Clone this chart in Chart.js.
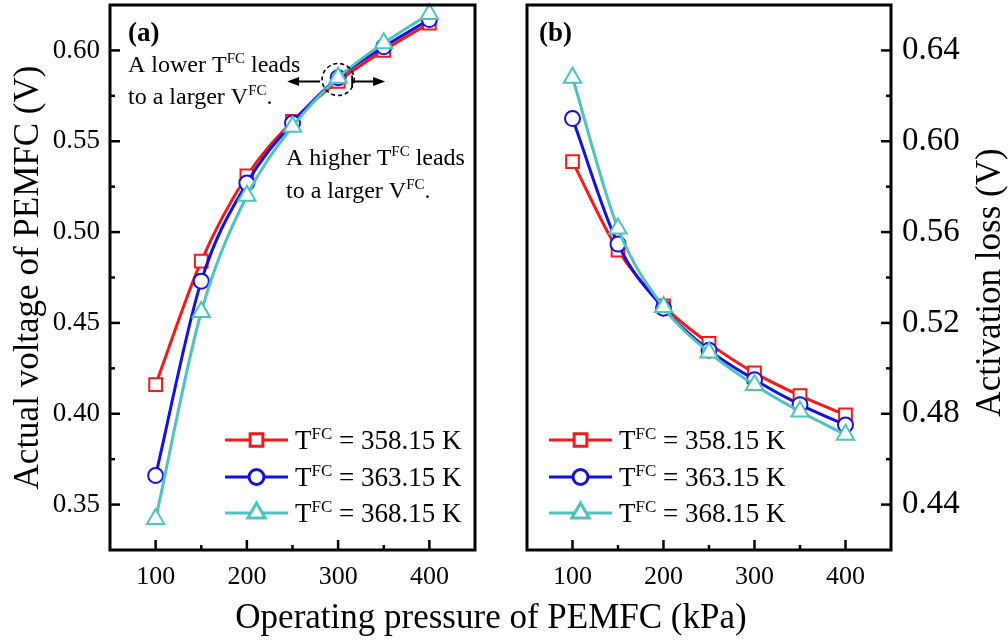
<!DOCTYPE html>
<html>
<head>
<meta charset="utf-8">
<script src="https://cdn.jsdelivr.net/npm/chart.js@4.4.0/dist/chart.umd.min.js"></script>
<style>
  body { margin: 0; background: #fff; width: 1008px; height: 640px; position: relative; overflow: hidden; }
  canvas { position: absolute; top: 0; }
  #xTitle {
    position: absolute; left: 0; width: 982px; top: 599px; text-align: center;
    font-family: "Liberation Serif", serif; font-size: 35px; line-height: 35px; color: #000;
  }
</style>
</head>
<body>
<canvas id="chartA" width="500" height="640" style="left:0"></canvas>
<canvas id="chartB" width="508" height="640" style="left:500px"></canvas>
<div id="xTitle">Operating pressure of PEMFC (kPa)</div>
<script>
// operating pressure (kPa)
const pressures = [100, 150, 200, 250, 300, 350, 400];
const temps = ['358.15', '363.15', '368.15'];

// (a) actual voltage of PEMFC (V)
const voltage358 = [0.416, 0.484, 0.531, 0.561, 0.583, 0.600, 0.615];
const voltage363 = [0.366, 0.473, 0.527, 0.560, 0.585, 0.602, 0.617];
const voltage368 = [0.342, 0.456, 0.520, 0.558, 0.585, 0.604, 0.620];

// (b) activation loss (V)
const loss358 = [0.591, 0.552, 0.5275, 0.511, 0.498, 0.488, 0.4795];
const loss363 = [0.610, 0.5547, 0.5265, 0.508, 0.495, 0.484, 0.475];
const loss368 = [0.628, 0.5616, 0.527, 0.507, 0.4927, 0.481, 0.4708];

const xTicks = [100, 200, 300, 400];
const voltageTicks = [0.35, 0.40, 0.45, 0.50, 0.55, 0.60];
const lossTicks = [0.44, 0.48, 0.52, 0.56, 0.60, 0.64];

const SERIF = '"Liberation Serif", "Times New Roman", serif';
const colors = ['#f01a1a', '#1212dc', '#4fc2bf'];
const shapes = ['rect', 'circle', 'triangle'];
const radii = [9, 7.5, 10];

function makeSets(series) {
  return series.map((vals, i) => ({
    label: 'T = ' + temps[i] + ' K',
    data: pressures.map((p, j) => ({ x: p, y: vals[j] })),
    borderColor: colors[i],
    borderWidth: 3,
    pointStyle: shapes[i],
    pointRadius: radii[i],
    pointBorderColor: colors[i],
    pointBackgroundColor: '#fff',
    pointBorderWidth: 2,
    cubicInterpolationMode: 'monotone',
    clip: false,
    order: 2 - i
  }));
}

// no extra room round the axes: the frame is pinned in place
function pinX(s) { s.height = 90; s.paddingLeft = 0; s.paddingRight = 0; }
function pinY(w) { return s => { s.width = w; s.paddingTop = 0; s.paddingBottom = 0; }; }

// text with "FC" superscripts: parts = [[text, isSup], ...]
function drawRich(ctx, parts, x, y, size) {
  ctx.textAlign = 'left';
  ctx.textBaseline = 'alphabetic';
  ctx.fillStyle = '#000';
  for (const [t, sup] of parts) {
    ctx.font = (sup ? Math.round(size * 0.64) : size) + 'px ' + SERIF;
    ctx.fillText(t, x, sup ? y - size * 0.36 : y);
    x += ctx.measureText(t).width;
  }
}

function drawMarker(ctx, i, x, y) {
  Chart.helpers.drawPoint(ctx, { pointStyle: shapes[i], radius: radii[i], borderWidth: 2 }, x, y);
}

function scaleTicks(ctx, scale, ticks, side, area) {
  const minor = [];
  for (let k = 0; k < ticks.length - 1; k++) minor.push((ticks[k] + ticks[k + 1]) / 2);
  const step = ticks[1] - ticks[0];
  minor.push(ticks[0] - step / 2, ticks[ticks.length - 1] + step / 2);
  ctx.lineWidth = 2.5;
  ctx.strokeStyle = '#000';
  const draw = (v, len) => {
    const p = scale.getPixelForValue(v);
    if (side === 'bottom' && (p < area.left + 2 || p > area.right - 2)) return;
    if (side !== 'bottom' && (p < area.top + 2 || p > area.bottom - 2)) return;
    ctx.beginPath();
    if (side === 'bottom') { ctx.moveTo(p, area.bottom); ctx.lineTo(p, area.bottom - len); }
    else if (side === 'left') { ctx.moveTo(area.left, p); ctx.lineTo(area.left + len, p); }
    else { ctx.moveTo(area.right, p); ctx.lineTo(area.right - len, p); }
    ctx.stroke();
  };
  ticks.forEach(v => draw(v, 10));
  minor.forEach(v => draw(v, 5));
}

function decor(cfg) {
  return {
    id: 'decor',
    afterDatasetsDraw(chart) {
      const { ctx, chartArea: a, scales } = chart;
      ctx.save();
      // frame
      ctx.lineWidth = 3;
      ctx.strokeStyle = '#000';
      ctx.strokeRect(a.left, a.top, a.right - a.left, a.bottom - a.top);
      scaleTicks(ctx, scales.x, xTicks, 'bottom', a);
      scaleTicks(ctx, scales.y, cfg.yTicks, cfg.ySide, a);

      // panel label
      ctx.font = 'bold 27px ' + SERIF;
      ctx.fillStyle = '#000';
      ctx.textAlign = 'left';
      ctx.textBaseline = 'middle';
      ctx.fillText(cfg.tag, a.left + cfg.tagDx, 34);

      // legend
      const rows = [440, 477, 513];
      temps.forEach((t, i) => {
        const x0 = a.left + cfg.legDx;
        ctx.strokeStyle = colors[i];
        ctx.lineWidth = 3;
        ctx.beginPath();
        ctx.moveTo(x0, rows[i]);
        ctx.lineTo(x0 + 63, rows[i]);
        ctx.stroke();
        ctx.fillStyle = '#fff';
        ctx.strokeStyle = colors[i];
        drawMarker(ctx, i, x0 + 31.5, rows[i]);
        drawRich(ctx, [['T', false], ['FC', true], [' = ' + t + ' K', false]], x0 + 70, rows[i] + 9, 27);
      });

      if (cfg.extra) cfg.extra(chart);
      ctx.restore();
    }
  };
}

function arrowHead(ctx, x, y, dir) {
  ctx.beginPath();
  ctx.moveTo(x, y);
  ctx.lineTo(x - dir * 12, y - 4.5);
  ctx.lineTo(x - dir * 12, y + 4.5);
  ctx.closePath();
  ctx.fill();
}

const chartA = new Chart(document.getElementById('chartA'), {
  type: 'line',
  data: { datasets: makeSets([voltage358, voltage363, voltage368]) },
  options: {
    responsive: false,
    animation: false,
    layout: { autoPadding: false, padding: { top: 5, right: 25, left: 0, bottom: 0 } },
    plugins: { legend: { display: false }, tooltip: { enabled: false } },
    scales: {
      x: {
        type: 'linear', min: 50, max: 450,
        afterBuildTicks: s => { s.ticks = xTicks.map(v => ({ value: v })); },
        afterFit: pinX,
        grid: { display: false, drawTicks: false },
        border: { display: false },
        ticks: { autoSkip: false, maxRotation: 0, padding: 12, color: '#000', font: { family: SERIF, size: 26 } }
      },
      y: {
        min: 0.325, max: 0.625,
        afterBuildTicks: s => { s.ticks = voltageTicks.map(v => ({ value: v })); },
        afterFit: pinY(110),
        grid: { display: false, drawTicks: false },
        border: { display: false },
        ticks: { autoSkip: false, padding: 10, color: '#000', font: { family: SERIF, size: 27 }, callback: v => v.toFixed(2) },
        title: { display: true, text: 'Actual voltage of PEMFC (V)', color: '#000', padding: { top: 8, bottom: 0 }, font: { family: SERIF, size: 35 } }
      }
    }
  },
  plugins: [decor({
    yTicks: voltageTicks, ySide: 'left', tag: '(a)', tagDx: 18, legDx: 115,
    extra(chart) {
      const ctx = chart.ctx;
      drawRich(ctx, [['A lower T', false], ['FC', true], [' leads', false]], 128, 72, 24);
      drawRich(ctx, [['to a larger V', false], ['FC', true], ['.', false]], 128, 104, 24);
      drawRich(ctx, [['A higher T', false], ['FC', true], [' leads', false]], 286, 165, 24);
      drawRich(ctx, [['to a larger V', false], ['FC', true], ['.', false]], 286, 198, 24);
      // dashed circle round the crossing near 300 kPa
      const cx = chart.scales.x.getPixelForValue(300);
      const cy = chart.scales.y.getPixelForValue(0.584);
      ctx.strokeStyle = '#000';
      ctx.fillStyle = '#000';
      ctx.lineWidth = 1.6;
      ctx.setLineDash([4, 3]);
      ctx.beginPath();
      ctx.arc(cx, cy, 16, 0, Math.PI * 2);
      ctx.stroke();
      ctx.setLineDash([]);
      ctx.lineWidth = 1.8;
      ctx.beginPath();
      ctx.moveTo(cx - 18, cy + 2); ctx.lineTo(cx - 48, cy + 2);
      ctx.moveTo(cx + 14, cy + 2); ctx.lineTo(cx + 44, cy + 2);
      ctx.moveTo(cx + 14, cy - 4); ctx.lineTo(cx + 14, cy + 8);
      ctx.stroke();
      arrowHead(ctx, cx - 51, cy + 2, -1);
      arrowHead(ctx, cx + 47, cy + 2, 1);
    }
  })]
});

const chartB = new Chart(document.getElementById('chartB'), {
  type: 'line',
  data: { datasets: makeSets([loss358, loss363, loss368]) },
  options: {
    responsive: false,
    animation: false,
    layout: { autoPadding: false, padding: { top: 5, right: 0, left: 27, bottom: 0 } },
    plugins: { legend: { display: false }, tooltip: { enabled: false } },
    scales: {
      x: {
        type: 'linear', min: 50, max: 450,
        afterBuildTicks: s => { s.ticks = xTicks.map(v => ({ value: v })); },
        afterFit: pinX,
        grid: { display: false, drawTicks: false },
        border: { display: false },
        ticks: { autoSkip: false, maxRotation: 0, padding: 12, color: '#000', font: { family: SERIF, size: 26 } }
      },
      y: {
        position: 'right',
        min: 0.42, max: 0.66,
        afterBuildTicks: s => { s.ticks = lossTicks.map(v => ({ value: v })); },
        afterFit: pinY(117),
        grid: { display: false, drawTicks: false },
        border: { display: false },
        ticks: { autoSkip: false, padding: 11, color: '#000', font: { family: SERIF, size: 33 }, callback: v => v.toFixed(2) }
      }
    }
  },
  plugins: [decor({
    yTicks: lossTicks, ySide: 'right', tag: '(b)', tagDx: 12, legDx: 22,
    extra(chart) {
      const ctx = chart.ctx;
      const a = chart.chartArea;
      ctx.translate(491, (a.top + a.bottom) / 2 + 5);
      ctx.rotate(-Math.PI / 2);
      ctx.font = '35px ' + SERIF;
      ctx.fillStyle = '#000';
      ctx.textAlign = 'center';
      ctx.textBaseline = 'middle';
      ctx.fillText('Activation loss (V)', 0, 0);
    }
  })]
});
</script>
</body>
</html>
